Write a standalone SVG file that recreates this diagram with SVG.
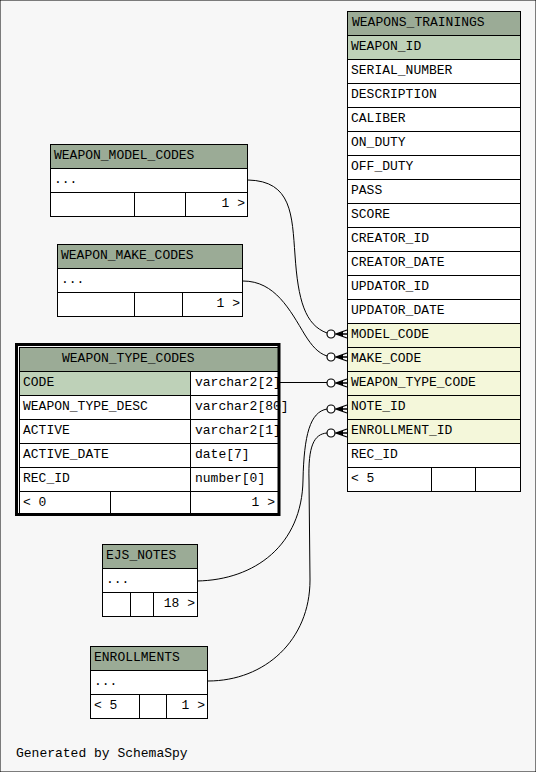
<svg xmlns="http://www.w3.org/2000/svg" width="536" height="772" viewBox="0 0 536 772">
<style>
text{font-family:"Liberation Mono","DejaVu Sans Mono",monospace;font-size:13px;fill:#000}
.e{text-anchor:end}
rect{stroke:#000;stroke-width:1}
.hd{fill:#9bab96}.pk{fill:#bed1b8}.ix{fill:#f4f7da}.bd{fill:#fff}
.c path.l{fill:none;stroke:#000;stroke-width:1}
.c circle{fill:#fff;stroke:#000;stroke-width:1.2}
.cf{fill:none;stroke:#000;stroke-width:1.3}
.cw{fill:#000;stroke:none}
</style>
<rect x="0" y="0" width="536" height="772" fill="#f7f7f7" stroke="none"/>
<g class="c" id="connectors">
<path class="l" d="M248,180 C292,181 292,215 295,255 C298,300 305,325 327,333"/>
<path class="l" d="M243,281 C275,281 290,310 305,335 C312,346 318,353 327,356"/>
<path class="l" d="M279,382.5 L327,382.5"/>
<path class="l" d="M197,581 C255,580 302,545 303,480 C304,435 310,412 327,409"/>
<path class="l" d="M208,681 C265,681 310,640 310,580 L309,480 C308,446 314,434 327,433"/>
<circle cx="331" cy="334" r="4"/><path class="cf" d="M347,330 L336,334 L347,338 M336,334 L347,334"/><path class="cw" d="M336,334 L343,331.5 L343,336.5 Z"/>
<circle cx="331" cy="357" r="4"/><path class="cf" d="M347,353 L336,357 L347,361 M336,357 L347,357"/><path class="cw" d="M336,357 L343,354.5 L343,359.5 Z"/>
<circle cx="331" cy="383" r="4"/><path class="cf" d="M347,379 L336,383 L347,387 M336,383 L347,383"/><path class="cw" d="M336,383 L343,380.5 L343,385.5 Z"/>
<circle cx="331" cy="409" r="4"/><path class="cf" d="M347,405 L336,409 L347,413 M336,409 L347,409"/><path class="cw" d="M336,409 L343,406.5 L343,411.5 Z"/>
<circle cx="331" cy="433" r="4"/><path class="cf" d="M347,429 L336,433 L347,437 M336,433 L347,433"/><path class="cw" d="M336,433 L343,430.5 L343,435.5 Z"/>
</g>
<g id="WEAPONS_TRAININGS">
<rect class="hd" x="347.5" y="11.5" width="173" height="24"/><text x="352" y="26">WEAPONS_TRAININGS</text>
<rect class="pk" x="347.5" y="35.5" width="173" height="24"/><text x="351" y="50">WEAPON_ID</text>
<rect class="bd" x="347.5" y="59.5" width="173" height="24"/><text x="351" y="74">SERIAL_NUMBER</text>
<rect class="bd" x="347.5" y="83.5" width="173" height="24"/><text x="351" y="98">DESCRIPTION</text>
<rect class="bd" x="347.5" y="107.5" width="173" height="24"/><text x="351" y="122">CALIBER</text>
<rect class="bd" x="347.5" y="131.5" width="173" height="24"/><text x="351" y="146">ON_DUTY</text>
<rect class="bd" x="347.5" y="155.5" width="173" height="24"/><text x="351" y="170">OFF_DUTY</text>
<rect class="bd" x="347.5" y="179.5" width="173" height="24"/><text x="351" y="194">PASS</text>
<rect class="bd" x="347.5" y="203.5" width="173" height="24"/><text x="351" y="218">SCORE</text>
<rect class="bd" x="347.5" y="227.5" width="173" height="24"/><text x="351" y="242">CREATOR_ID</text>
<rect class="bd" x="347.5" y="251.5" width="173" height="24"/><text x="351" y="266">CREATOR_DATE</text>
<rect class="bd" x="347.5" y="275.5" width="173" height="24"/><text x="351" y="290">UPDATOR_ID</text>
<rect class="bd" x="347.5" y="299.5" width="173" height="24"/><text x="351" y="314">UPDATOR_DATE</text>
<rect class="ix" x="347.5" y="323.5" width="173" height="24"/><text x="351" y="338">MODEL_CODE</text>
<rect class="ix" x="347.5" y="347.5" width="173" height="24"/><text x="351" y="362">MAKE_CODE</text>
<rect class="ix" x="347.5" y="371.5" width="173" height="24"/><text x="351" y="386">WEAPON_TYPE_CODE</text>
<rect class="ix" x="347.5" y="395.5" width="173" height="24"/><text x="351" y="410">NOTE_ID</text>
<rect class="ix" x="347.5" y="419.5" width="173" height="24"/><text x="351" y="434">ENROLLMENT_ID</text>
<rect class="bd" x="347.5" y="443.5" width="173" height="24"/><text x="351" y="458">REC_ID</text>
<rect class="bd" x="347.5" y="467.5" width="84" height="24"/><rect class="bd" x="431.5" y="467.5" width="44" height="24"/><rect class="bd" x="475.5" y="467.5" width="45" height="24"/>
<text x="351" y="482">&lt; 5</text>
</g>
<g id="WEAPON_MODEL_CODES">
<rect class="hd" x="50.5" y="144.5" width="197" height="24"/><text x="54" y="159">WEAPON_MODEL_CODES</text>
<rect class="bd" x="50.5" y="168.5" width="197" height="24"/><text x="54" y="183">...</text>
<rect class="bd" x="50.5" y="192.5" width="84" height="24"/><rect class="bd" x="134.5" y="192.5" width="51" height="24"/><rect class="bd" x="185.5" y="192.5" width="62" height="24"/>
<text class="e" x="245" y="207">1 &gt;</text>
</g>
<g id="WEAPON_MAKE_CODES">
<rect class="hd" x="57.5" y="244.5" width="185" height="24"/><text x="61" y="259">WEAPON_MAKE_CODES</text>
<rect class="bd" x="57.5" y="268.5" width="185" height="24"/><text x="61" y="283">...</text>
<rect class="bd" x="57.5" y="292.5" width="77" height="24"/><rect class="bd" x="134.5" y="292.5" width="48" height="24"/><rect class="bd" x="182.5" y="292.5" width="60" height="24"/>
<text class="e" x="240" y="307">1 &gt;</text>
</g>
<g id="WEAPON_TYPE_CODES">
<rect class="hd" x="19.5" y="347.5" width="260" height="24"/><text x="62" y="362">WEAPON_TYPE_CODES</text>
<rect class="pk" x="19.5" y="371.5" width="171" height="24"/><rect class="bd" x="190.5" y="371.5" width="89" height="24"/>
<text x="23" y="386">CODE</text><text x="195" y="386">varchar2[2]</text>
<rect class="bd" x="19.5" y="395.5" width="171" height="24"/><rect class="bd" x="190.5" y="395.5" width="89" height="24"/>
<text x="23" y="410">WEAPON_TYPE_DESC</text><text x="195" y="410">varchar2[80]</text>
<rect class="bd" x="19.5" y="419.5" width="171" height="24"/><rect class="bd" x="190.5" y="419.5" width="89" height="24"/>
<text x="23" y="434">ACTIVE</text><text x="195" y="434">varchar2[1]</text>
<rect class="bd" x="19.5" y="443.5" width="171" height="24"/><rect class="bd" x="190.5" y="443.5" width="89" height="24"/>
<text x="23" y="458">ACTIVE_DATE</text><text x="195" y="458">date[7]</text>
<rect class="bd" x="19.5" y="467.5" width="171" height="24"/><rect class="bd" x="190.5" y="467.5" width="89" height="24"/>
<text x="23" y="482">REC_ID</text><text x="195" y="482">number[0]</text>
<rect class="bd" x="19.5" y="491.5" width="91" height="24"/><rect class="bd" x="110.5" y="491.5" width="80" height="24"/><rect class="bd" x="190.5" y="491.5" width="89" height="24"/>
<text x="23" y="506">&lt; 0</text><text class="e" x="275" y="506">1 &gt;</text>
<rect x="16.5" y="344.5" width="262.5" height="170" fill="none" stroke="#000" style="stroke-width:3"/>
</g>
<g id="EJS_NOTES">
<rect class="hd" x="102.5" y="544.5" width="95" height="24"/><text x="106" y="559">EJS_NOTES</text>
<rect class="bd" x="102.5" y="568.5" width="95" height="24"/><text x="106" y="583">...</text>
<rect class="bd" x="102.5" y="592.5" width="28" height="24"/><rect class="bd" x="130.5" y="592.5" width="23" height="24"/><rect class="bd" x="153.5" y="592.5" width="44" height="24"/>
<text class="e" x="195" y="607">18 &gt;</text>
</g>
<g id="ENROLLMENTS">
<rect class="hd" x="90.5" y="646.5" width="117" height="24"/><text x="94" y="661">ENROLLMENTS</text>
<rect class="bd" x="90.5" y="670.5" width="117" height="24"/><text x="94" y="685">...</text>
<rect class="bd" x="90.5" y="694.5" width="49" height="24"/><rect class="bd" x="139.5" y="694.5" width="27" height="24"/><rect class="bd" x="166.5" y="694.5" width="41" height="24"/>
<text x="94" y="709">&lt; 5</text><text class="e" x="205" y="709">1 &gt;</text>
</g>
<text x="16" y="757">Generated by SchemaSpy</text>
</svg>
